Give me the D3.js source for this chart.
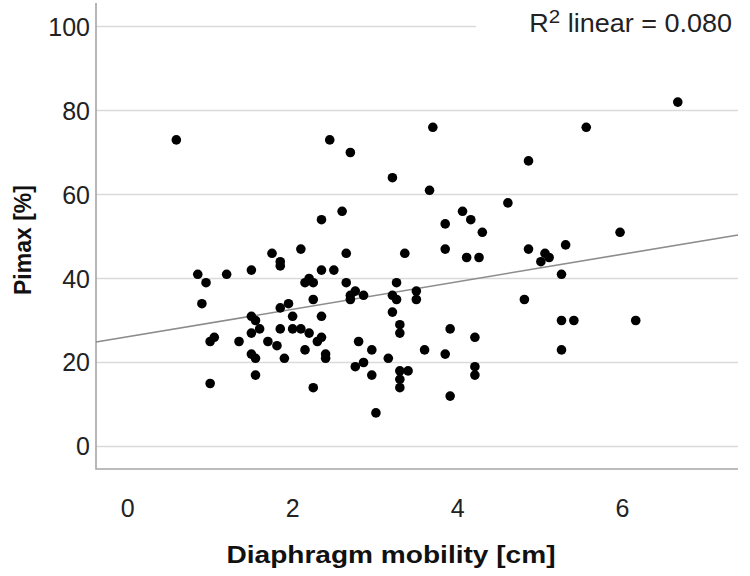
<!DOCTYPE html>
<html>
<head>
<meta charset="utf-8">
<script src="https://cdn.jsdelivr.net/npm/d3@7"></script>
<style>
  body { margin: 0; background: #fff; }
  text { font-family: "Liberation Sans", Arial, sans-serif; }
</style>
</head>
<body>
<div id="chart"></div>
<script>
// Diaphragm mobility [cm] vs Pimax [%]
const mobility = [
  0.59, 2.45, 2.70, 3.70, 3.21, 3.66, 2.35, 2.60, 3.85, 4.06, 4.16, 4.30, 4.61, 6.67, 5.56, 4.86, 5.97,
  0.85, 0.95, 1.20, 1.50, 1.75, 1.85, 1.85, 2.10, 2.15, 2.20, 2.25, 0.90, 2.25, 1.95, 1.85, 2.00,
  1.50, 1.55, 1.60, 1.50, 1.00, 1.05, 1.35, 1.70, 1.81, 1.85, 2.00, 2.10, 2.20, 2.30, 2.15, 1.50,
  1.55, 1.90, 1.55, 1.00, 2.25,
  2.65, 3.36, 3.85, 4.11, 4.26, 2.35, 2.50, 2.65, 2.76, 2.70, 2.70, 2.86, 3.26, 3.21, 3.26, 3.50,
  3.50, 3.21, 2.35, 2.35, 3.30, 3.30, 3.91, 4.21, 2.80, 2.40, 2.40, 2.96, 3.60, 3.85, 3.16, 2.86,
  2.76, 2.96, 3.30, 3.40, 3.30, 3.30, 4.21, 4.21, 3.91, 3.01,
  4.86, 5.31, 5.06, 5.11, 5.01, 5.26, 4.81, 5.26, 5.41, 6.16, 5.26
];
const pimax = [
  73, 73, 70, 76, 64, 61, 54, 56, 53, 56, 54, 51, 58, 82, 76, 68, 51,
  41, 39, 41, 42, 46, 44, 43, 47, 39, 40, 39, 34, 35, 34, 33, 31,
  31, 30, 28, 27, 25, 26, 25, 25, 24, 28, 28, 28, 27, 25, 23, 22,
  21, 21, 17, 15, 14,
  46, 46, 47, 45, 45, 42, 42, 39, 37, 36, 35, 36, 39, 36, 35, 37,
  35, 32, 31, 26, 29, 27, 28, 26, 25, 22, 21, 23, 23, 22, 21, 20,
  19, 17, 18, 18, 16, 14, 19, 17, 12, 8,
  47, 48, 46, 45, 44, 41, 35, 30, 30, 30, 23
];
const xTicks = [0, 2, 4, 6];
const yTicks = [0, 20, 40, 60, 80, 100];
const rSquaredText = "0.080";

const width = 750, height = 576;
const plotLeft = 96, plotRight = 738, plotTop = 3, plotBottom = 469;

const svg = d3.select("#chart")
    .append("svg")
    .attr("width", width)
    .attr("height", height);

const x = d3.scaleLinear().domain([-0.384, 7.40]).range([plotLeft, plotRight]);
const y = d3.scaleLinear().domain([-5.36, 105.6]).range([plotBottom, plotTop]);

// horizontal gridlines
svg.selectAll(".grid")
    .data(yTicks)
    .enter()
    .append("line")
    .attr("x1", plotLeft)
    .attr("x2", plotRight)
    .attr("y1", d => y(d))
    .attr("y2", d => y(d))
    .attr("stroke", "#dadada")
    .attr("stroke-width", 1.6);

// y tick labels
svg.selectAll(".ylab")
    .data(yTicks)
    .enter()
    .append("text")
    .attr("x", plotLeft - 6)
    .attr("y", d => y(d))
    .attr("dy", "0.36em")
    .attr("text-anchor", "end")
    .style("font-size", "25px")
    .attr("fill", "#222")
    .text(d => d);

// x tick labels
svg.selectAll(".xlab")
    .data(xTicks)
    .enter()
    .append("text")
    .attr("x", d => x(d))
    .attr("y", 508)
    .attr("dy", "0.36em")
    .attr("text-anchor", "middle")
    .style("font-size", "25px")
    .attr("fill", "#222")
    .text(d => d);

// axis frame
svg.append("path")
    .attr("d", `M${plotLeft},${plotTop}V${plotBottom}H${plotRight}`)
    .attr("fill", "none")
    .attr("stroke", "#a6a6a6")
    .attr("stroke-width", 1.6);

// fit line (least squares)
const mx = d3.mean(mobility), my = d3.mean(pimax);
const sxy = d3.sum(mobility, (v, i) => (v - mx) * (pimax[i] - my));
const sxx = d3.sum(mobility, v => (v - mx) * (v - mx));
const slope = sxy / sxx;
const intercept = my - slope * mx;
const xDom = x.domain();

svg.append("line")
    .attr("x1", x(xDom[0]))
    .attr("x2", x(xDom[1]))
    .attr("y1", y(intercept + slope * xDom[0]))
    .attr("y2", y(intercept + slope * xDom[1]))
    .attr("stroke", "#8c8c8c")
    .attr("stroke-width", 1.6);

// points
svg.selectAll(".dot")
    .data(mobility)
    .enter()
    .append("circle")
    .attr("cx", d => x(d))
    .attr("cy", (d, i) => y(pimax[i]))
    .attr("r", 4.8)
    .attr("fill", "#000");

// R² label with white box
svg.append("rect")
    .attr("x", 476)
    .attr("y", 4)
    .attr("width", plotRight - 476)
    .attr("height", 40)
    .attr("fill", "#fff");

const r2 = svg.append("text")
    .attr("transform", "translate(732,32) scale(1.08,1)")
    .attr("text-anchor", "end")
    .style("font-size", "25px")
    .attr("fill", "#222");
r2.append("tspan").text("R");
r2.append("tspan").attr("dy", -9).style("font-size", "19px").text("2");
r2.append("tspan").attr("dy", 9).text(" linear = " + rSquaredText);

// axis titles
svg.append("text")
    .attr("transform", "translate(391,563) scale(1.17,1)")
    .attr("text-anchor", "middle")
    .style("font-size", "24px")
    .style("font-weight", "bold")
    .attr("fill", "#111")
    .text("Diaphragm mobility [cm]");

svg.append("text")
    .attr("transform", "translate(31,240) rotate(-90)")
    .attr("text-anchor", "middle")
    .style("font-size", "23px")
    .style("font-weight", "bold")
    .attr("fill", "#111")
    .text("Pimax [%]");
</script>
</body>
</html>
